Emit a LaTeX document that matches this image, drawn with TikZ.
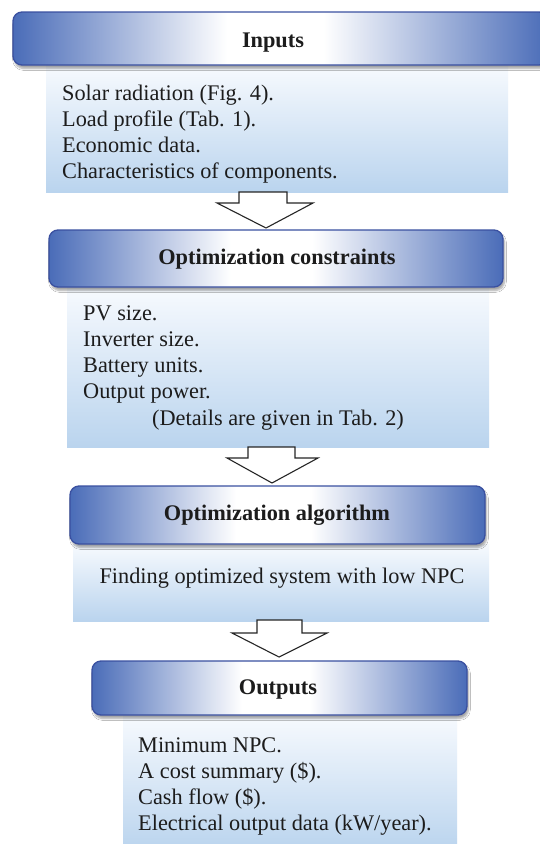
\documentclass[tikz,border=0pt]{standalone}
\usepackage{fontspec}
\setmainfont{Liberation Serif}
\usetikzlibrary{shadows.blur}
\definecolor{hdrblue}{HTML}{4A6CB8}
\definecolor{hdrline}{HTML}{3A50A0}
\definecolor{bodytop}{HTML}{F7FAFE}
\definecolor{bodybot}{HTML}{BAD4EE}
\definecolor{txt}{HTML}{1C1C1C}
\pgfdeclarehorizontalshading{hdrshade}{100bp}{color(0bp)=(hdrblue); color(25bp)=(hdrblue); color(45bp)=(white); color(54bp)=(white); color(75bp)=(hdrblue); color(100bp)=(hdrblue)}
\newcommand\bodylines[1]{\begin{tabular}[t]{@{}l@{}}#1\end{tabular}}
\tikzset{
  hdr/.style={draw=hdrline, line width=1.3pt, rounded corners=9pt, shade, shading=hdrshade,
    blur shadow={shadow xshift=1.5pt, shadow yshift=-3.5pt, shadow opacity=35, shadow blur steps=6},
    inner sep=0pt, outer sep=0pt},
  bodybox/.style={draw=none, top color=bodytop, bottom color=bodybot, inner sep=0pt, outer sep=0pt},
  bodytext/.style={inner sep=0pt, text=txt, font=\fontsize{22.3}{26.3}\selectfont},
  hdrtext/.style={inner sep=0pt, text=txt, font=\fontsize{22.3}{26.3}\selectfont\bfseries},
  blockarrow/.style={draw=black!85, line width=1.1pt, fill=white, line join=miter}
}
\begin{document}
\begin{tikzpicture}[x=1pt, y=-1pt]
\clip (0,0) rectangle (540,844);
\fill[white] (0,0) rectangle (540,844);

% ---- bodies ----
\node[bodybox, minimum width=462pt, minimum height=127pt] (bA) at (277,128.5) {};
\node[bodybox, minimum width=422pt, minimum height=160pt] (bB) at (278,367) {};
\node[bodybox, minimum width=416pt, minimum height=77pt]  (bC) at (281,582.5) {};
\node[bodybox, minimum width=334pt, minimum height=135pt] (bD) at (290,782.5) {};

% ---- headers ----
\node[hdr, minimum width=535pt, minimum height=53pt] (hA) at (280.5,38.5) {};
\node[hdr, minimum width=454pt, minimum height=57pt] (hB) at (276,258.5) {};
\node[hdr, minimum width=415pt, minimum height=58pt] (hC) at (277.5,515) {};
\node[hdr, minimum width=375pt, minimum height=54pt] (hD) at (279.5,688) {};

% ---- header titles ----
\node[hdrtext, anchor=base] (tA) at (273,47) {Inputs};
\node[hdrtext, anchor=base] (tB) at (277,264) {Optimization constraints};
\node[hdrtext, anchor=base] (tC) at (277,520) {Optimization algorithm};
\node[hdrtext, anchor=base] (tD) at (278,694) {Outputs};

% ---- body texts ----
\node[bodytext, anchor=base west] (xA) at (62,100) {\bodylines{Solar radiation (Fig. 4).\\Load profile (Tab. 1).\\Economic data.\\Characteristics of components.}};
\node[bodytext, anchor=base west] (xB) at (83,320) {\bodylines{PV size.\\Inverter size.\\Battery units.\\Output power.}};
\node[bodytext, anchor=base] (xB2) at (278,425) {(Details are given in Tab. 2)};
\node[bodytext, anchor=base] (xC) at (282,583) {Finding optimized system with low NPC};
\node[bodytext, anchor=base west] (xD) at (138,752) {\bodylines{Minimum NPC.\\A cost summary (\$).\\Cash flow (\$).\\Electrical output data (kW/year).}};

% ---- block arrows ----
\draw[blockarrow] (239,192) -- (287,192) -- (287,203) -- (313,203) -- (266,228) -- (217,203) -- (239,203) -- cycle;
\draw[blockarrow] (248,447) -- (295,447) -- (295,458) -- (318,458) -- (272,483) -- (227,458) -- (248,458) -- cycle;
\draw[blockarrow] (257,620) -- (302,620) -- (302,633) -- (327,633) -- (279,657) -- (232,633) -- (257,633) -- cycle;
\end{tikzpicture}
\end{document}
